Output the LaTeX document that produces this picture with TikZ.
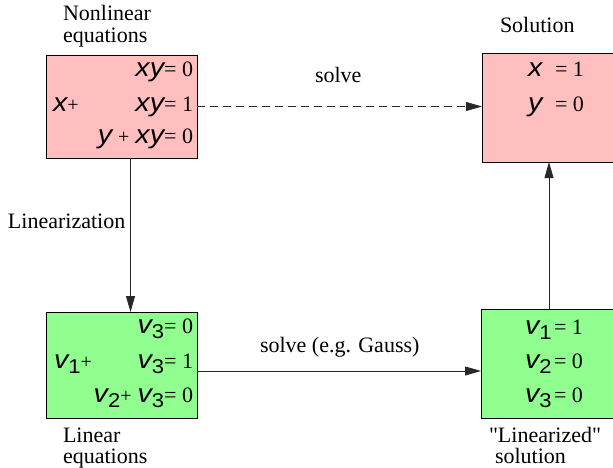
\documentclass[tikz,border=0pt]{standalone}
\usepackage{fontspec}
\setmainfont{Liberation Serif}
\newfontfamily\qfont{Liberation Serif}[Ligatures=TeXOff]
\newfontfamily\hvfont{Liberation Sans}[FakeStretch=1.1]
\usetikzlibrary{arrows.meta}
\definecolor{pinkfill}{RGB}{255,191,191}
\definecolor{greenfill}{RGB}{144,255,144}
\definecolor{linegray}{RGB}{40,40,40}
\newcommand\myvar[1]{{\hvfont\fontsize{26}{26}\selectfont\itshape #1}}
\newcommand\mynum[1]{{\fontsize{22}{22}\selectfont #1}}
\newcommand\myplus{{\fontsize{20}{20}\selectfont +}}
\newcommand\myv[1]{\myvar{v}\raisebox{-5pt}{\hvfont\fontsize{20}{20}\selectfont #1}}
\begin{document}
\begin{tikzpicture}[x=1pt,y=-1pt,
  box/.style={draw=black,line width=0.9pt,inner sep=0pt,outer sep=0pt},
  pinkbox/.style={box,fill=pinkfill},
  greenbox/.style={box,fill=greenfill},
  eq/.style={inner sep=0pt,outer sep=0pt},
  captext/.style={inner sep=0pt,outer sep=0pt,anchor=base west,font=\fontsize{22}{24}\selectfont},
  conn/.style={draw=linegray,line width=0.8pt,-{Triangle[length=16pt,width=9pt]}}]
\useasboundingbox (0,0) rectangle (613,468);
% boxes
\node[pinkbox,minimum width=151pt,minimum height=103pt] (tl) at (121.5,106.5) {};
\node[pinkbox,minimum width=135pt,minimum height=109pt] (tr) at (549.5,107.5) {};
\node[greenbox,minimum width=151pt,minimum height=106pt] (bl) at (121.5,365) {};
\node[greenbox,minimum width=136pt,minimum height=109pt] (br) at (549,363.5) {};
% top-left equations
\node[eq,anchor=base east] (tl1) at (193,77) {\myvar{xy}\mynum{= 0}};
\node[eq,anchor=base east] (tl2) at (193,112) {\myvar{xy}\mynum{= 1}};
\node[eq,anchor=base west] (tl2a) at (53,112) {\myvar{x}\myplus};
\node[eq,anchor=base east] (tl3) at (193,144) {\myvar{y}\hspace{6pt}\myplus\hspace{6pt}\myvar{xy}\mynum{= 0}};
% top-right solution
\node[eq,anchor=base west] (trx) at (528,77) {\myvar{x}};
\node[eq,anchor=base west] (trx2) at (555,77) {\mynum{= 1}};
\node[eq,anchor=base west] (try) at (528,112) {\myvar{y}};
\node[eq,anchor=base west] (try2) at (555,112) {\mynum{= 0}};
% bottom-left equations
\node[eq,anchor=base east] (bl1) at (193,333) {\myv{3}\mynum{= 0}};
\node[eq,anchor=base east] (bl2) at (193,368) {\myv{3}\mynum{= 1}};
\node[eq,anchor=base west] (bl2a) at (54,368) {\myv{1}\myplus};
\node[eq,anchor=base east] (bl3) at (193,402) {\myv{2}\myplus\hspace{6pt}\myv{3}\mynum{= 0}};
% bottom-right solution
\node[eq,anchor=base west] (br1) at (525,334) {\myv{1}};
\node[eq,anchor=base west] (br1b) at (554,334) {\mynum{= 1}};
\node[eq,anchor=base west] (br2) at (525,368) {\myv{2}};
\node[eq,anchor=base west] (br2b) at (554,368) {\mynum{= 0}};
\node[eq,anchor=base west] (br3) at (525,402) {\myv{3}};
\node[eq,anchor=base west] (br3b) at (554,402) {\mynum{= 0}};
% captions
\node[captext] (c1) at (63,21) {Nonlinear};
\node[captext] (c2) at (63,43) {equations};
\node[captext] (c3) at (500,33) {Solution};
\node[captext] (c4) at (8,228) {Linearization};
\node[captext] (c5) at (315,83) {solve};
\node[captext] (c6) at (260,352) {solve (e.g. Gauss)};
\node[captext] (c7) at (63,442) {Linear};
\node[captext] (c8) at (63,463) {equations};
\node[captext] (c9) at (489,442) {{\qfont"}Linearized{\qfont"}};
\node[captext] (c10) at (495,463) {solution};
% connectors
\draw[conn,dash pattern=on 8pt off 5pt] (tl.east) -- (tl.east -| tr.west);
\draw[conn] ([xshift=9pt]tl.south) -- ([xshift=9pt]tl.south |- bl.north);
\draw[conn] ([yshift=-6pt]bl.east) -- ([yshift=-6pt]bl.east -| br.west);
\draw[conn] (br.north) -- (br.north |- tr.south);
\end{tikzpicture}
\end{document}
